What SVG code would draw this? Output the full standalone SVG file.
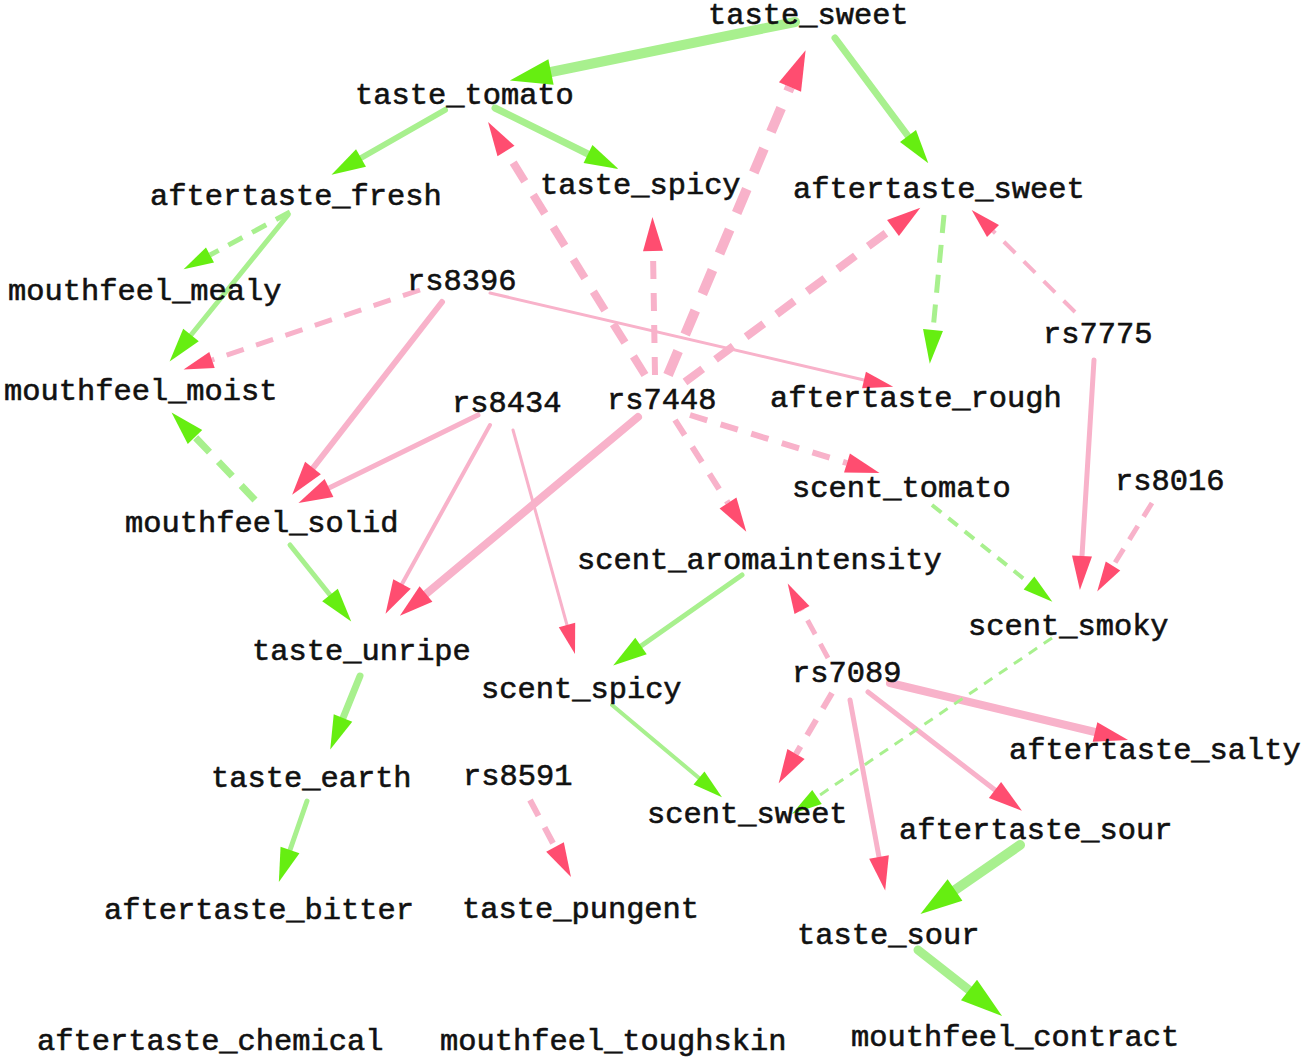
<svg xmlns="http://www.w3.org/2000/svg" width="1305" height="1062" viewBox="0 0 1305 1062">
<style>
text{font-family:"Liberation Mono","DejaVu Sans Mono",monospace;font-size:30.4px;fill:#111;stroke:#111;stroke-width:0.6px}
.g{stroke:#a8f08e;fill:none;stroke-linecap:round}
.p{stroke:#f8b2ca;fill:none;stroke-linecap:round}
.d{stroke-linecap:butt}
</style>
<defs>
<marker id="gL" markerUnits="userSpaceOnUse" markerWidth="42" markerHeight="26" refX="0" refY="13" orient="auto" overflow="visible"><path d="M0,0 L42,13 L0,26 Z" fill="#66ee11"/></marker>
<marker id="gM" markerUnits="userSpaceOnUse" markerWidth="34" markerHeight="20" refX="0" refY="10" orient="auto" overflow="visible"><path d="M0,0 L34,10 L0,20 Z" fill="#66ee11"/></marker>
<marker id="gS" markerUnits="userSpaceOnUse" markerWidth="30" markerHeight="17" refX="0" refY="8.5" orient="auto" overflow="visible"><path d="M0,0 L30,8.5 L0,17 Z" fill="#66ee11"/></marker>
<marker id="pL" markerUnits="userSpaceOnUse" markerWidth="40" markerHeight="24" refX="0" refY="12" orient="auto" overflow="visible"><path d="M0,0 L40,12 L0,24 Z" fill="#ff4d70"/></marker>
<marker id="pM" markerUnits="userSpaceOnUse" markerWidth="34" markerHeight="20" refX="0" refY="10" orient="auto" overflow="visible"><path d="M0,0 L34,10 L0,20 Z" fill="#ff4d70"/></marker>
<marker id="pS" markerUnits="userSpaceOnUse" markerWidth="30" markerHeight="17" refX="0" refY="8.5" orient="auto" overflow="visible"><path d="M0,0 L30,8.5 L0,17 Z" fill="#ff4d70"/></marker>
</defs>
<g id="edges">
<path class="g" stroke-width="10" d="M795,22 L551,72" marker-end="url(#gL)"/>
<path class="g" stroke-width="7" d="M835,38 L908,136" marker-end="url(#gM)"/>
<path class="g" stroke-width="6" d="M445,110 L361,158" marker-end="url(#gM)"/>
<path class="g" stroke-width="7" d="M495,108 L588,154" marker-end="url(#gM)"/>
<path class="g d" stroke-width="5" stroke-dasharray="16 11" d="M290,212 L210,255" marker-end="url(#gS)"/>
<path class="g" stroke-width="5" d="M288,215 L191,335" marker-end="url(#gM)"/>
<path class="p d" stroke-width="5" stroke-dasharray="18 13" d="M420,290 L212,360" marker-end="url(#pS)"/>
<path class="p" stroke-width="6" d="M442,302 L313,468" marker-end="url(#pM)"/>
<path class="p" stroke-width="3" d="M490,293 L864,380" marker-end="url(#pS)"/>
<path class="g d" stroke-width="7" stroke-dasharray="20 13" d="M255,500 L195,437" marker-end="url(#gM)"/>
<path class="p" stroke-width="5" d="M478,415 L329,488" marker-end="url(#pM)"/>
<path class="p" stroke-width="4" d="M490,425 L402,584" marker-end="url(#pM)"/>
<path class="p" stroke-width="3" d="M513,430 L567,625" marker-end="url(#pS)"/>
<path class="p" stroke-width="8" d="M638,417 L426,594" marker-end="url(#pM)"/>
<path class="p d" stroke-width="8" stroke-dasharray="22 16" d="M645,375 L506,151" marker-end="url(#pM)"/>
<path class="p d" stroke-width="6" stroke-dasharray="18 14" d="M655,375 L653,251" marker-end="url(#pM)"/>
<path class="p d" stroke-width="10" stroke-dasharray="26 18" d="M668,375 L790,87" marker-end="url(#pL)"/>
<path class="p d" stroke-width="8" stroke-dasharray="22 16" d="M685,382 L893,228" marker-end="url(#pM)"/>
<path class="p d" stroke-width="6" stroke-dasharray="18 14" d="M690,415 L847,463" marker-end="url(#pM)"/>
<path class="p d" stroke-width="6" stroke-dasharray="18 14" d="M675,420 L728,503" marker-end="url(#pM)"/>
<path class="g d" stroke-width="5" stroke-dasharray="18 12" d="M944,215 L933,330" marker-end="url(#gM)"/>
<path class="p d" stroke-width="4" stroke-dasharray="16 12" d="M1075,312 L993,231" marker-end="url(#pS)"/>
<path class="p" stroke-width="5" d="M1094,360 L1082,556" marker-end="url(#pM)"/>
<path class="p d" stroke-width="5" stroke-dasharray="16 11" d="M1152,503 L1113,566" marker-end="url(#pS)"/>
<path class="g d" stroke-width="4" stroke-dasharray="12 9" d="M932,505 L1029,583" marker-end="url(#gS)"/>
<path class="g" stroke-width="5" d="M290,545 L330,595" marker-end="url(#gM)"/>
<path class="g" stroke-width="5" d="M742,575 L641,646" marker-end="url(#gM)"/>
<path class="p d" stroke-width="5" stroke-dasharray="16 11" d="M828,658 L802,610" marker-end="url(#pS)"/>
<path class="p d" stroke-width="6" stroke-dasharray="18 13" d="M832,693 L796,754" marker-end="url(#pM)"/>
<path class="p" stroke-width="8" d="M890,683 L1095,732" marker-end="url(#pM)"/>
<path class="p" stroke-width="5" d="M868,692 L995,790" marker-end="url(#pM)"/>
<path class="p" stroke-width="5" d="M850,700 L879,857" marker-end="url(#pM)"/>
<path class="g d" stroke-width="3" stroke-dasharray="10 8" d="M1052,638 L817,797" marker-end="url(#gS)"/>
<path class="g" stroke-width="4" d="M612,705 L699,778" marker-end="url(#gS)"/>
<path class="g" stroke-width="7" d="M360,676 L343,718" marker-end="url(#gM)"/>
<path class="g" stroke-width="5" d="M307,801 L290,850" marker-end="url(#gM)"/>
<path class="p d" stroke-width="6" stroke-dasharray="18 13" d="M530,800 L555,847" marker-end="url(#pM)"/>
<path class="g" stroke-width="10" d="M1020,845 L955,890" marker-end="url(#gL)"/>
<path class="g" stroke-width="9" d="M918,950 L969,990" marker-end="url(#gL)"/>
</g>
<g id="taste_sweet"><text x="708" y="24">taste_sweet</text></g>
<g id="taste_tomato"><text x="355" y="104">taste_tomato</text></g>
<g id="aftertaste_fresh"><text x="150" y="205">aftertaste_fresh</text></g>
<g id="taste_spicy"><text x="540" y="194">taste_spicy</text></g>
<g id="aftertaste_sweet"><text x="793" y="198">aftertaste_sweet</text></g>
<g id="mouthfeel_mealy"><text x="8" y="300">mouthfeel_mealy</text></g>
<g id="rs8396"><text x="407" y="290">rs8396</text></g>
<g id="rs7775"><text x="1043" y="343">rs7775</text></g>
<g id="mouthfeel_moist"><text x="4" y="400">mouthfeel_moist</text></g>
<g id="rs8434"><text x="452" y="412">rs8434</text></g>
<g id="rs7448"><text x="607" y="409">rs7448</text></g>
<g id="aftertaste_rough"><text x="770" y="407">aftertaste_rough</text></g>
<g id="scent_tomato"><text x="792" y="497">scent_tomato</text></g>
<g id="rs8016"><text x="1115" y="490">rs8016</text></g>
<g id="mouthfeel_solid"><text x="125" y="532">mouthfeel_solid</text></g>
<g id="scent_aromaintensity"><text x="577" y="569">scent_aromaintensity</text></g>
<g id="scent_smoky"><text x="968" y="635">scent_smoky</text></g>
<g id="taste_unripe"><text x="252" y="660">taste_unripe</text></g>
<g id="scent_spicy"><text x="481" y="698">scent_spicy</text></g>
<g id="rs7089"><text x="792" y="682">rs7089</text></g>
<g id="aftertaste_salty"><text x="1009" y="759">aftertaste_salty</text></g>
<g id="taste_earth"><text x="211" y="787">taste_earth</text></g>
<g id="rs8591"><text x="463" y="785">rs8591</text></g>
<g id="scent_sweet"><text x="647" y="823">scent_sweet</text></g>
<g id="aftertaste_sour"><text x="899" y="839">aftertaste_sour</text></g>
<g id="aftertaste_bitter"><text x="104" y="919">aftertaste_bitter</text></g>
<g id="taste_pungent"><text x="462" y="918">taste_pungent</text></g>
<g id="taste_sour"><text x="797" y="944">taste_sour</text></g>
<g id="aftertaste_chemical"><text x="37" y="1050">aftertaste_chemical</text></g>
<g id="mouthfeel_toughskin"><text x="440" y="1050">mouthfeel_toughskin</text></g>
<g id="mouthfeel_contract"><text x="851" y="1046">mouthfeel_contract</text></g>
</svg>
